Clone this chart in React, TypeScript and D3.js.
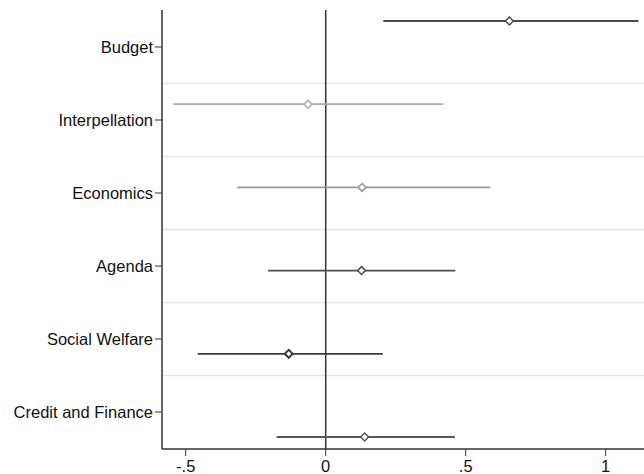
import React from "react";
import * as d3 from "d3";

const categories = ["Budget", "Interpellation", "Economics", "Agenda", "Social Welfare", "Credit and Finance"];
const estimates = [0.656, -0.063, 0.13, 0.128, -0.132, 0.139];
const lower = [0.206, -0.544, -0.316, -0.206, -0.457, -0.175];
const upper = [1.117, 0.42, 0.588, 0.463, 0.204, 0.461];
const colors = ["#4a4a4a", "#ababab", "#9a9a9a", "#4e4e4e", "#3a3a3a", "#555555"];
const xTicks = [-0.5, 0, 0.5, 1];
const xTickLabels = ["-.5", "0", ".5", "1"];

const W = 644, H = 474;
const left = 162, top = 10, bottom = 449;

export default function App() {
  const x = d3.scaleLinear().domain([0, 1]).range([325.7, 605.7]);
  const yLabel = d3.scalePoint<string>().domain(categories).range([47, 412]);
  const yPoint = d3.scalePoint<string>().domain(categories).range([21, 437]);
  const step = yLabel.step();
  const seps = categories.slice(0, -1).map((c) => (yLabel(c) as number) + step / 2);
  const diamond = d3.symbol().type(d3.symbolDiamond2).size(40)();
  const font = "'Liberation Sans', Arial, Helvetica, sans-serif";

  return (
    <svg width={W} height={H} style={{ position: "absolute", left: 0, top: 0 }} fontFamily={font}>
      <rect width={W} height={H} fill="#fff" />
      {seps.map((s, i) => (
        <line key={i} x1={left} x2={W} y1={s} y2={s} stroke="#e6e6e6" strokeWidth={1.5} />
      ))}
      <line x1={x(0)} x2={x(0)} y1={top} y2={bottom} stroke="#333" strokeWidth={1.5} />
      {categories.map((c, i) => {
        const y = yPoint(c) as number;
        return (
          <g key={c}>
            <line x1={x(lower[i])} x2={Math.min(x(upper[i]), W)} y1={y} y2={y} stroke={colors[i]} strokeWidth={1.8} />
            <path d={diamond ?? ""} transform={`translate(${x(estimates[i])},${y})`} fill="#fff" stroke={colors[i]} strokeWidth={i === 4 ? 2 : 1.5} />
          </g>
        );
      })}
      <line x1={left} x2={left} y1={top} y2={bottom} stroke="#333" strokeWidth={1.5} />
      <line x1={left} x2={W} y1={bottom} y2={bottom} stroke="#333" strokeWidth={1.5} />
      {categories.map((c) => {
        const y = yLabel(c) as number;
        return (
          <g key={c}>
            <line x1={left - 7} x2={left} y1={y} y2={y} stroke="#333" strokeWidth={1} />
            <text x={left - 9} y={y} dy="0.35em" textAnchor="end" fontSize={16.5} fill="#111">{c}</text>
          </g>
        );
      })}
      {xTicks.map((t, i) => (
        <g key={t}>
          <line x1={x(t)} x2={x(t)} y1={bottom} y2={bottom + 7} stroke="#333" strokeWidth={1} />
          <text x={x(t)} y={bottom + 23} textAnchor="middle" fontSize={16.5} fill="#111">{xTickLabels[i]}</text>
        </g>
      ))}
    </svg>
  );
}
